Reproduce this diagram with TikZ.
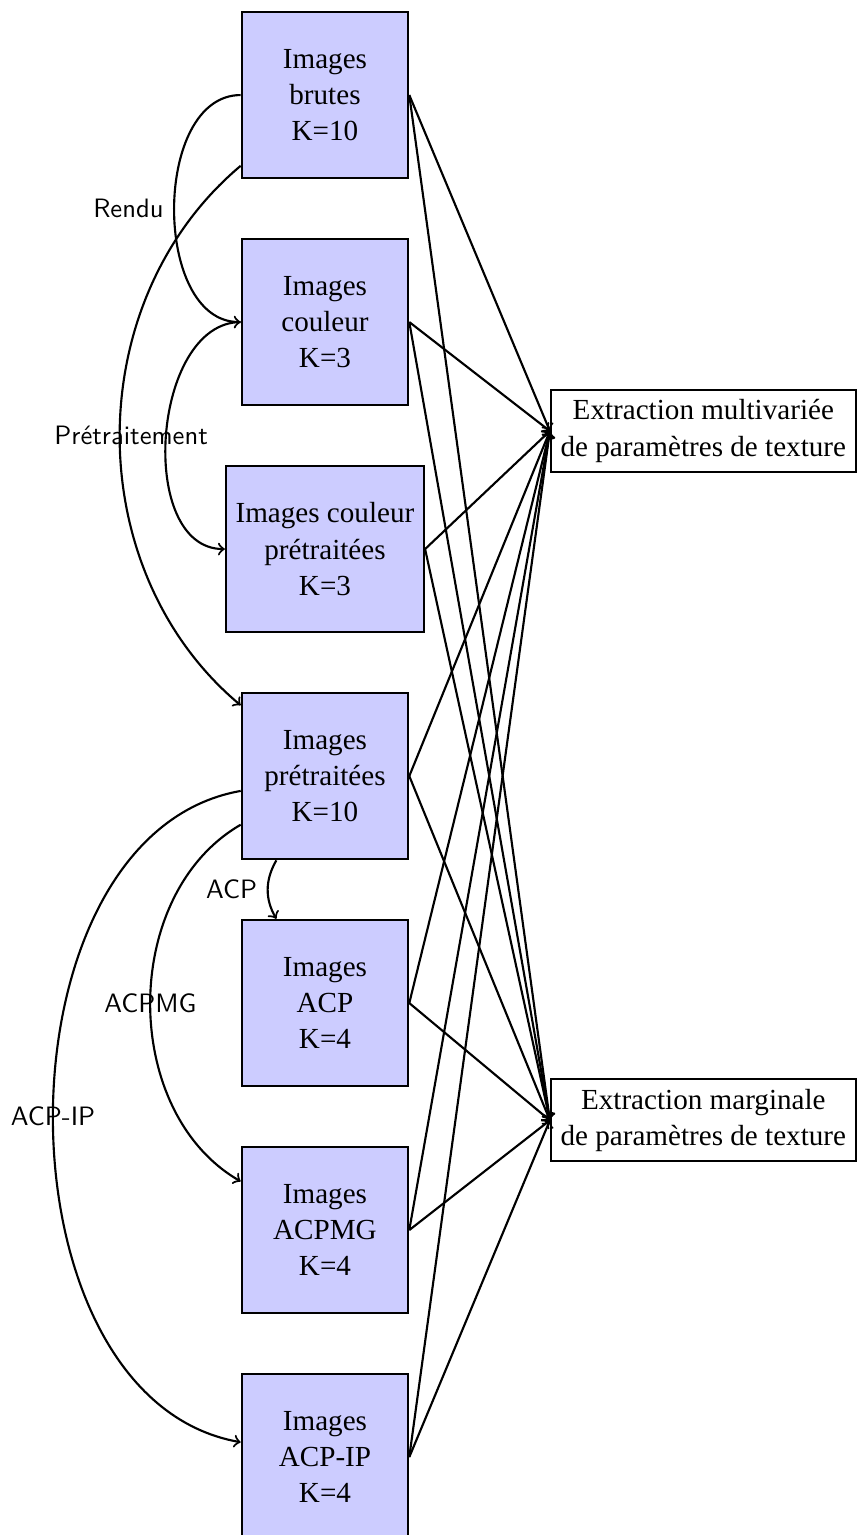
\documentclass[tikz,border=0pt,11pt]{standalone}
\usepackage{fontspec}
\setmainfont{Liberation Serif}
\begin{document}
\begin{tikzpicture}[scale=1]
            \tikzset{img/.style={draw, thick, fill=blue!20, minimum size=2.2cm, align=center},
                     extr/.style={draw, thick, fill=white, align=center},
                     lbl/.style={font=\small\sffamily},
                     fl/.style={->, thick}}
            \useasboundingbox (-4.295,1.256) rectangle (7.03,-19.03);

            % Images (colonne de gauche)
            \node[img] (brutes) at (0,0) {Images\\brutes\\K=10};
            \node[img] (couleur) at (0,-3) {Images\\couleur\\K=3};
            \node[img] (couleurpre) at (0,-6) {Images couleur\\prétraitées\\K=3};
            \node[img] (pretraitees) at (0,-9) {Images\\prétraitées\\K=10};
            \node[img] (acp) at (0,-12) {Images\\ACP\\K=4};
            \node[img] (acpmg) at (0,-15) {Images\\ACPMG\\K=4};
            \node[img] (acpip) at (0,-18) {Images\\ACP-IP\\K=4};

            % Extraction (colonne de droite)
            \node[extr] (multi) at (5,-4.44) {Extraction multivariée\\de paramètres de texture};
            \node[extr] (marg) at (5,-13.55) {Extraction marginale\\de paramètres de texture};

            % Transformations
            \draw[fl] (brutes) to[out=180, in=180] node[lbl, left] (rendu) {Rendu} (couleur);
            \draw[fl] (couleur) to[out=180, in=180] (couleurpre);
            \draw[fl] (brutes) to[out=220, in=140] node[lbl, xshift=0.15cm] (pretrait) {Prétraitement} (pretraitees);
            \draw[fl] (pretraitees) to[out=240, in=120] node[lbl, left] (lacp) {ACP} (acp);
            \draw[fl] (pretraitees) to[out=210, in=150] node[lbl] (lacpmg) {ACPMG} (acpmg);
            \draw[fl] (pretraitees) to[out=190, in=170] node[lbl] (lacpip) {ACP-IP} (acpip);

            % Extraction des parametres
            \draw (brutes.east) edge[fl] (multi.west) edge[fl] (marg.west);
            \draw (couleur.east) edge[fl] (multi.west) edge[fl] (marg.west);
            \draw (couleurpre.east) edge[fl] (multi.west) edge[fl] (marg.west);
            \draw (pretraitees.east) edge[fl] (multi.west) edge[fl] (marg.west);
            \draw (acp.east) edge[fl] (multi.west) edge[fl] (marg.west);
            \draw (acpmg.east) edge[fl] (multi.west) edge[fl] (marg.west);
            \draw (acpip.east) edge[fl] (multi.west) edge[fl] (marg.west);
        \end{tikzpicture}
\end{document}
